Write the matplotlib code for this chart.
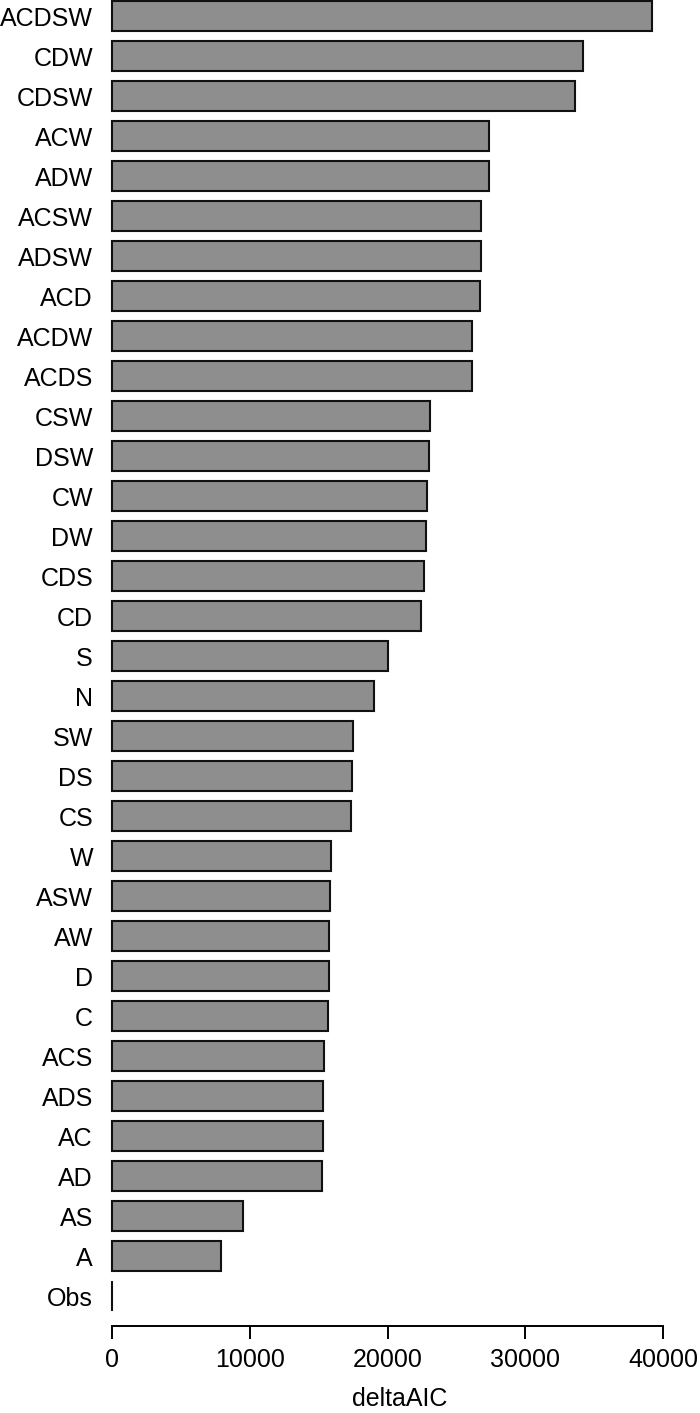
import matplotlib

matplotlib.use("Agg")
import matplotlib.pyplot as plt

# --------------------------------------------------------------------------- #
# Data (top -> bottom as drawn)
# --------------------------------------------------------------------------- #
MODELS = [
    "ACDSW", "CDW", "CDSW", "ACW", "ADW", "ACSW", "ADSW", "ACD", "ACDW",
    "ACDS", "CSW", "DSW", "CW", "DW", "CDS", "CD", "S", "N", "SW", "DS",
    "CS", "W", "ASW", "AW", "D", "C", "ACS", "ADS", "AC", "AD", "AS", "A",
    "Obs",
]
DELTA_AIC = [
    39180, 34165, 33605, 27360, 27335, 26800, 26755, 26700, 26120,
    26120, 23070, 23000, 22875, 22800, 22635, 22415, 20000, 19000,
    17455, 17400, 17350, 15855, 15780, 15730, 15730, 15640, 15370,
    15295, 15270, 15200, 9460, 7860, 0,
]
X_TICKS = [0, 10000, 20000, 30000, 40000]

plt.rcParams["font.family"] = ["Liberation Sans", "DejaVu Sans"]

W, H = 700, 1413
fig = plt.figure(figsize=(W / 100, H / 100), dpi=100)

# axes placed in pixel terms: left 100, right 700, top 0, bottom 1326
ax = fig.add_axes([100 / W, (H - 1326) / H, 600 / W, 1326 / H])

pos = list(range(len(MODELS)))
ax.barh(pos, DELTA_AIC, height=0.74, color="#8e8e8e",
        edgecolor="#111111", linewidth=1.5)

ax.set_ylim(32.75, -0.4)
ax.set_xlim(-908, 42689)

ax.set_yticks(pos)
ax.set_yticklabels(MODELS, fontsize=18)
ax.tick_params(axis="y", length=0, pad=5)

ax.set_xticks(X_TICKS)
ax.set_xticklabels([str(t) for t in X_TICKS], fontsize=18)
ax.tick_params(axis="x", length=9, width=1.4, pad=7, direction="out")
ax.set_xlabel("deltaAIC", fontsize=18, labelpad=11)

for side in ("top", "right", "left"):
    ax.spines[side].set_visible(False)
ax.spines["bottom"].set_bounds(0, 40000)
ax.spines["bottom"].set_linewidth(1.4)

fig.savefig("out.png", dpi=100)
plt.close(fig)
